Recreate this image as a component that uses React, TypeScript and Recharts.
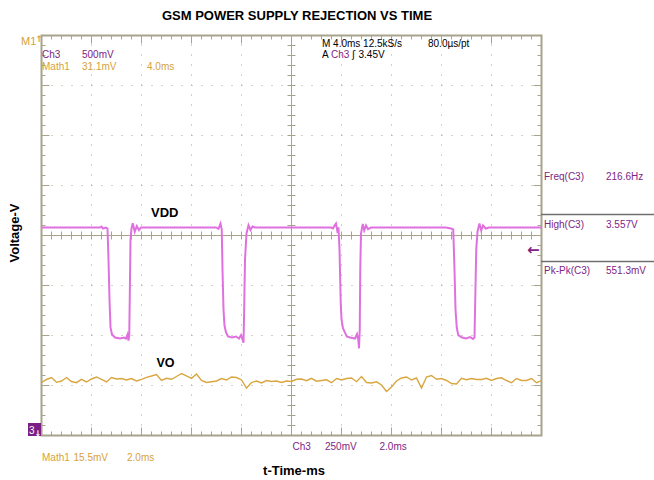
import React from "react";
import { LineChart, Line, XAxis, YAxis, ReferenceLine, ReferenceArea } from "recharts";

// ---- Data (read from the scope capture) ----
// Ch3 (VDD) trace, time in ms, voltage in V
const vddTime = [
  0, 1.2, 2.34, 2.4, 2.46, 2.58, 2.64, 2.68, 2.72, 2.76, 2.82, 2.94, 3.14, 3.3, 3.38, 3.44, 3.48, 3.51, 3.54, 3.56, 3.6, 3.65, 3.73, 3.81, 3.9, 3.98,
  5.5, 6.98, 7.08, 7.16, 7.21, 7.24, 7.28, 7.32, 7.38, 7.46, 7.62, 7.78, 7.9, 7.98, 8.04, 8.08, 8.1, 8.14, 8.2, 8.28, 8.36, 8.44, 8.54,
  10.0, 11.58, 11.66, 11.71, 11.78, 11.83, 11.88, 11.92, 11.97, 12.0, 12.06, 12.21, 12.34, 12.54, 12.62, 12.67, 12.7, 12.73, 12.75, 12.78, 12.85, 12.91, 12.98, 13.06, 13.18,
  15.0, 16.18, 16.38, 16.47, 16.52, 16.56, 16.61, 16.67, 16.82, 16.98, 17.14, 17.26, 17.32, 17.35, 17.39, 17.44, 17.52, 17.59, 17.66, 17.77, 17.9, 20,
];
const vddVolt = [
  3.56, 3.56, 3.56, 3.565, 3.555, 3.56, 3.555, 3.4, 3.2, 3.06, 3.025, 3.01, 3.005, 3.01, 3.005, 3.025, 2.995, 3.02, 3.3, 3.5, 3.555, 3.581, 3.539, 3.567, 3.547, 3.56,
  3.56, 3.56, 3.553, 3.58, 3.55, 3.35, 3.15, 3.07, 3.035, 3.015, 3.01, 3.015, 3.005, 3.022, 3.0, 2.984, 3.1, 3.4, 3.53, 3.572, 3.548, 3.565, 3.56,
  3.56, 3.56, 3.555, 3.567, 3.58, 3.545, 3.56, 3.45, 3.18, 3.1, 3.056, 3.015, 3.01, 3.005, 3.027, 3.0, 2.956, 3.05, 3.35, 3.53, 3.578, 3.545, 3.57, 3.552, 3.56,
  3.56, 3.56, 3.555, 3.55, 3.35, 3.15, 3.06, 3.022, 3.01, 3.005, 3.012, 3.003, 3.01, 3.2, 3.45, 3.54, 3.58, 3.545, 3.57, 3.555, 3.56, 3.56,
];

// Math1 (VO) trace, sampled every 0.2 ms, in mV relative to its reference
const voTime = [
  0, 0.2, 0.4, 0.6, 0.8, 1.0, 1.2, 1.4, 1.6, 1.8, 2.0, 2.2, 2.4, 2.6, 2.8, 3.0, 3.2, 3.4, 3.6, 3.8,
  4.0, 4.2, 4.4, 4.6, 4.8, 5.0, 5.2, 5.4, 5.6, 5.8, 6.0, 6.2, 6.4, 6.6, 6.8, 7.0, 7.2, 7.4, 7.6, 7.8,
  8.0, 8.2, 8.4, 8.6, 8.8, 9.0, 9.2, 9.4, 9.6, 9.8, 10.0, 10.2, 10.4, 10.6, 10.8, 11.0, 11.2, 11.4, 11.6, 11.8,
  12.0, 12.2, 12.4, 12.6, 12.8, 13.0, 13.2, 13.4, 13.6, 13.8, 14.0, 14.2, 14.4, 14.6, 14.8, 15.0, 15.2, 15.4, 15.6, 15.8,
  16.0, 16.2, 16.4, 16.6, 16.8, 17.0, 17.2, 17.4, 17.6, 17.8, 18.0, 18.2, 18.4, 18.6, 18.8, 19.0, 19.2, 19.4, 19.6, 19.8, 20.0,
];
const voMilli = [
  0.87, 1.86, 2.48, 0.99, 1.4, 2.48, 1.24, 0.87, 1.92, 1.09, 2.02, 2.64, 1.92, 1.09, 2.48, 2.02, 2.17, 1.71, 2.17, 1.4,
  1.92, 2.54, 2.95, 3.41, 1.55, 2.23, 1.92, 2.79, 3.72, 2.95, 2.23, 3.57, 1.55, 0.93, 1.18, 1.4, 2.17, 1.71, 2.64, 2.48,
  1.71, -0.78, 0.93, 1.4, 0.78, 1.55, 1.24, 1.4, 0.93, 1.4, 1.24, 1.92, 2.02, 1.49, 2.23, 1.33, 1.55, 1.77, 0.87, 2.17,
  1.71, 2.17, 2.33, 1.18, 2.79, 0.93, 0.78, 1.15, 0.16, -1.86, -0.47, 1.4, 2.33, 2.64, 1.71, 2.33, -0.78, 2.64, 3.1, 1.92,
  2.17, 1.55, 0.62, 0.47, 2.23, 1.8, 2.17, 1.86, 1.86, 2.23, 1.55, 2.17, 2.39, 1.55, 0.87, 2.17, 1.55, 1.55, 2.17, 0.87, 1.49,
];

// Scope settings (tick labels / readouts)
const titleText = "GSM POWER SUPPLY REJECTION VS TIME";
const measNames = ["Freq(C3)", "High(C3)", "Pk-Pk(C3)"];
const measValues = ["216.6Hz", "3.557V", "551.3mV"];

const vddData = vddTime.map((t, i) => ({ t, v: vddVolt[i] }));
const voData = voTime.map((t, i) => ({ t, m: voMilli[i] }));

// Screen geometry / scales
const T_MIN = 0, T_MAX = 20;           // 2 ms/div, 10 div
const V_MIN = 2.52, V_MAX = 4.52;      // 250 mV/div, 8 div
const V_MID = 3.52;
const VO_MIN = -15.5, VO_MAX = 108.5;  // 15.5 mV/div, 8 div

const GRID = "#a8a38c";
const PURPLE = "#7e2584";
const ORANGE = "#d6a23a";
const FONT = "'Liberation Sans', Arial, sans-serif";

const minorT: number[] = [];
for (let k = 1; k < 50; k++) minorT.push(+(k * 0.4).toFixed(2));
const minorV: number[] = [];
for (let j = 1; j < 40; j++) minorV.push(+(V_MIN + j * 0.05).toFixed(3));
const majorT = [2, 4, 6, 8, 12, 14, 16, 18];
const majorV = [2.77, 3.02, 3.27, 3.77, 4.02, 4.27];

export default function App() {
  const tickEls: React.ReactNode[] = [];
  minorT.forEach((t, k) => {
    const major = (k + 1) % 5 === 0;
    const L = major ? 0.04 : 0.02;
    tickEls.push(
      <ReferenceLine key={`tt${k}`} yAxisId="v" segment={[{ x: t, y: V_MAX }, { x: t, y: V_MAX - L }]} stroke={GRID} strokeWidth={1} />,
      <ReferenceLine key={`tb${k}`} yAxisId="v" segment={[{ x: t, y: V_MIN }, { x: t, y: V_MIN + L }]} stroke={GRID} strokeWidth={1} />,
      <ReferenceLine key={`tc${k}`} yAxisId="v" segment={[{ x: t, y: V_MID - 0.02 }, { x: t, y: V_MID + 0.02 }]} stroke={GRID} strokeWidth={1} />
    );
  });
  minorV.forEach((v, j) => {
    const major = (j + 1) % 5 === 0;
    const L = major ? 0.32 : 0.16;
    tickEls.push(
      <ReferenceLine key={`vl${j}`} yAxisId="v" segment={[{ x: T_MIN, y: v }, { x: T_MIN + L, y: v }]} stroke={GRID} strokeWidth={1} />,
      <ReferenceLine key={`vr${j}`} yAxisId="v" segment={[{ x: T_MAX, y: v }, { x: T_MAX - L, y: v }]} stroke={GRID} strokeWidth={1} />,
      <ReferenceLine key={`vc${j}`} yAxisId="v" segment={[{ x: 10 - 0.16, y: v }, { x: 10 + 0.16, y: v }]} stroke={GRID} strokeWidth={1} />
    );
  });

  return (
    <div style={{ position: "absolute", left: 0, top: 0, width: 654, height: 480, background: "#fff" }}>
      <LineChart width={654} height={480} margin={{ top: 35.5, left: 41.5, right: 112.5, bottom: 44.5 }}>
        <XAxis dataKey="t" type="number" domain={[T_MIN, T_MAX]} hide allowDataOverflow />
        <YAxis yAxisId="v" type="number" domain={[V_MIN, V_MAX]} hide allowDataOverflow />
        <YAxis yAxisId="vo" type="number" domain={[VO_MIN, VO_MAX]} hide allowDataOverflow />
        {majorT.map((t) => (
          <ReferenceLine key={`gx${t}`} yAxisId="v" x={t} stroke={GRID} strokeWidth={1} strokeDasharray="1 9" />
        ))}
        {majorV.map((v) => (
          <ReferenceLine key={`gy${v}`} yAxisId="v" y={v} stroke={GRID} strokeWidth={1} strokeDasharray="1 9" />
        ))}
        <ReferenceLine yAxisId="v" x={10} stroke={GRID} strokeWidth={1} />
        <ReferenceLine yAxisId="v" y={V_MID} stroke={GRID} strokeWidth={1} />
        {tickEls}
        <ReferenceArea yAxisId="v" x1={T_MIN} x2={T_MAX} y1={V_MIN} y2={V_MAX} fill="none" fillOpacity={0} stroke={GRID} strokeWidth={2} />
        <Line yAxisId="vo" data={voData} dataKey="m" type="linear" dot={false} stroke="#d9a640" strokeWidth={1.4} isAnimationActive={false} />
        <Line yAxisId="v" data={vddData} dataKey="v" type="linear" dot={false} stroke="#e070e0" strokeWidth={2} isAnimationActive={false} />
      </LineChart>
      <svg width={654} height={480} style={{ position: "absolute", left: 0, top: 0, pointerEvents: "none" }} fontFamily={FONT}>
        <text x={297} y={20} textAnchor="middle" fontSize={13} fontWeight="bold" fill="#000">{titleText}</text>
        <text x={21} y={45} fontSize={11} fill={ORANGE}>M1</text>
        <text x={35.5} y={42} fontSize={9} fontWeight="bold" fill={ORANGE} fontFamily="'DejaVu Sans', sans-serif">↑</text>
        <text x={42} y={58} fontSize={10} fill={PURPLE}>Ch3</text>
        <text x={82} y={58} fontSize={10} fill={PURPLE}>500mV</text>
        <text x={42} y={70} fontSize={10} fill={ORANGE}>Math1</text>
        <text x={82} y={70} fontSize={10} fill={ORANGE}>31.1mV</text>
        <text x={147} y={70} fontSize={10} fill={ORANGE}>4.0ms</text>
        <text x={322} y={47} fontSize={10} fill="#000">M 4.0ms 12.5kS/s</text>
        <text x={428} y={47} fontSize={10} fill="#000">80.0µs/pt</text>
        <text x={322} y={58} fontSize={10} fill="#000">A</text>
        <text x={331} y={58} fontSize={10} fill={PURPLE}>Ch3</text>
        <text x={352} y={58} fontSize={10} fill="#000" fontFamily="'DejaVu Sans', sans-serif">ʃ</text>
        <text x={358.5} y={58} fontSize={10} fill="#000">3.45V</text>
        <text x={151} y={217} fontSize={13} fontWeight="bold" fill="#000">VDD</text>
        <text x={156.5} y={367} fontSize={12.5} fontWeight="bold" fill="#000">VO</text>
        <text transform="translate(18.5,233) rotate(-90)" textAnchor="middle" fontSize={13} fontWeight="bold" fill="#000">Voltage-V</text>
        {measNames.map((n, i) => (
          <text key={n} x={544} y={[180, 227.5, 274][i]} fontSize={10} fill={PURPLE}>{n}</text>
        ))}
        {measValues.map((v, i) => (
          <text key={v} x={606} y={[180, 227.5, 274][i]} fontSize={10} fill={PURPLE}>{v}</text>
        ))}
        <line x1={541} y1={214.5} x2={654} y2={214.5} stroke="#707070" strokeWidth={1.5} />
        <line x1={541} y1={261.5} x2={654} y2={261.5} stroke="#707070" strokeWidth={1.5} />
        <text x={527} y={254.5} fontSize={15} fontWeight="bold" fill={PURPLE} fontFamily="'DejaVu Sans', sans-serif">←</text>
        <rect x={28} y={423} width={13} height={13} fill="#7a1f86" />
        <text x={29} y={434} fontSize={10} fill="#fff">3</text>
        <text x={34.5} y={435.5} fontSize={8} fontWeight="bold" fill="#fff" fontFamily="'DejaVu Sans', sans-serif">↓</text>
        <text x={292.5} y={449.5} fontSize={10} fill={PURPLE}>Ch3</text>
        <text x={325} y={449.5} fontSize={10} fill={PURPLE}>250mV</text>
        <text x={379.5} y={449.5} fontSize={10} fill={PURPLE}>2.0ms</text>
        <text x={42} y={461} fontSize={10} fill={ORANGE}>Math1</text>
        <text x={73.5} y={461} fontSize={10} fill={ORANGE}>15.5mV</text>
        <text x={127} y={461} fontSize={10} fill={ORANGE}>2.0ms</text>
        <text x={294} y={475} textAnchor="middle" fontSize={13} fontWeight="bold" fill="#000">t-Time-ms</text>
      </svg>
    </div>
  );
}
